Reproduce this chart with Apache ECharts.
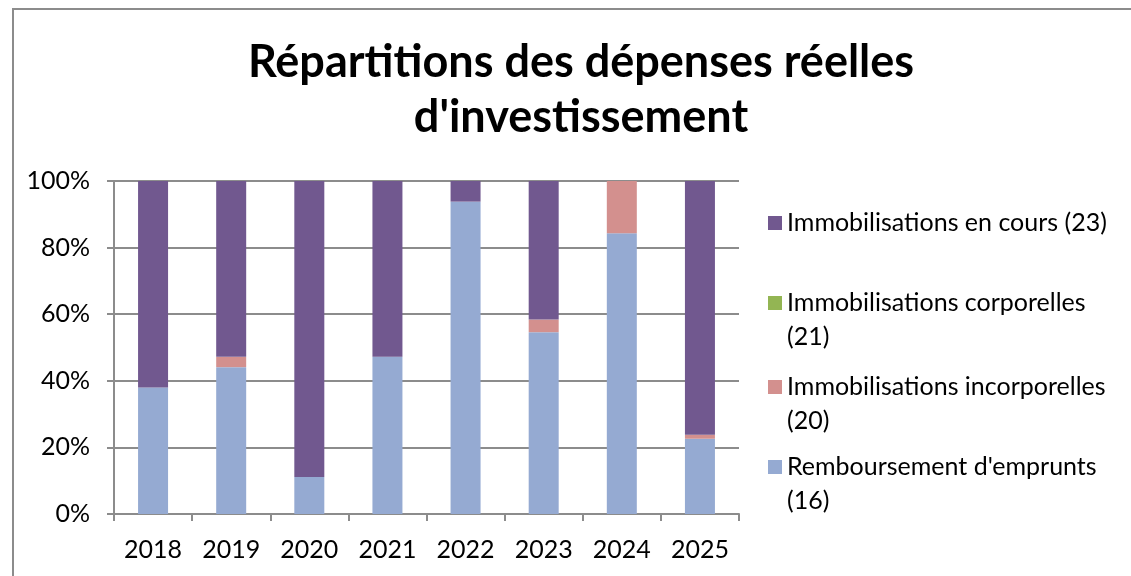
<!DOCTYPE html>
<html>
<head>
<meta charset="utf-8">
<script src="https://cdn.jsdelivr.net/npm/echarts@6/dist/echarts.min.js"></script>
<style>
  html, body { margin: 0; background: #fff; overflow: hidden; width: 1131px; height: 576px; }
  .edge { position: absolute; background: #8c8c8c; }
  #edge-top { left: 12px; top: 8px; width: 1119px; height: 2px; }
  #edge-left { left: 12px; top: 8px; width: 2px; height: 568px; }
  #chart { position: absolute; left: 0; top: 0; width: 1131px; height: 576px; }
</style>
</head>
<body>
<div class="edge" id="edge-top"></div>
<div class="edge" id="edge-left"></div>
<div id="chart"></div>
<script>
var years = ["2018", "2019", "2020", "2021", "2022", "2023", "2024", "2025"];
var remboursement = [38.0, 44.1, 11.1, 47.2, 93.8, 54.6, 84.3, 22.6];
var incorporelles = [0, 3.1, 0, 0, 0, 3.8, 15.7, 1.2];
var corporelles = [0, 0, 0, 0, 0, 0, 0, 0];
var enCours = [62.0, 52.8, 88.9, 52.8, 6.2, 41.6, 0, 76.2];

var names = [
  "Immobilisations en cours (23)",
  "Immobilisations corporelles (21)",
  "Immobilisations incorporelles (20)",
  "Remboursement d'emprunts (16)"
];
var legendLabels = [
  "Immobilisations en cours (23)",
  "Immobilisations corporelles\n(21)",
  "Immobilisations incorporelles\n(20)",
  "Remboursement d'emprunts\n(16)"
];
var colors = ["#71588f", "#93b553", "#d3908e", "#95aad2"];
var legendTops = [223, 303, 387, 467];

var font = "Lato, 'Open Sans', sans-serif";
var lh = 34;
var myChart = echarts.init(document.getElementById("chart"));

// two-line entries: the square sits at the top of a taller icon box
// so it lines up with the first text line
function makeLegend(i) {
  var twoLines = legendLabels[i].indexOf("\n") >= 0;
  var boxH = twoLines ? 14 + lh : 14;
  return {
    data: [{
      name: names[i],
      icon: twoLines ? "path://M0,0L14,0L14,14L0,14Z M0," + boxH + "L0.01," + boxH : "rect"
    }],
    orient: "vertical",
    left: 768,
    top: legendTops[i] - lh / 2,
    padding: 0,
    itemWidth: 14,
    itemHeight: boxH,
    itemGap: 0,
    symbolKeepAspect: false,
    selectedMode: false,
    formatter: function () { return legendLabels[i]; },
    textStyle: {
      fontFamily: font,
      fontSize: 25,
      color: "#000",
      lineHeight: lh
    }
  };
}

var option = {
  animation: false,
  title: {
    text: "Répartitions des dépenses réelles\nd'investissement",
    left: 581,
    textAlign: "center",
    top: 35,
    padding: 0,
    textStyle: {
      fontFamily: font,
      fontWeight: "bold",
      fontSize: 45,
      lineHeight: 55,
      color: "#000"
    }
  },
  legend: [makeLegend(0), makeLegend(1), makeLegend(2), makeLegend(3)],
  grid: { left: 114, right: 392, top: 181, bottom: 62 },
  xAxis: {
    type: "category",
    data: years,
    axisLine: { lineStyle: { color: "#8c8c8c", width: 2 } },
    axisTick: { show: true, length: 7, lineStyle: { color: "#8c8c8c", width: 2 } },
    axisLabel: { fontFamily: font, fontSize: 25, color: "#000", margin: 23 }
  },
  yAxis: {
    type: "value",
    min: 0,
    max: 100,
    interval: 20,
    axisLine: { show: true, lineStyle: { color: "#8c8c8c", width: 2 } },
    axisTick: { show: true, length: 7, lineStyle: { color: "#8c8c8c", width: 2 } },
    splitLine: { lineStyle: { color: "#8c8c8c", width: 2 } },
    axisLabel: { fontFamily: font, fontSize: 25, color: "#000", margin: 24, formatter: "{value}%" }
  },
  series: [
    { name: names[3], type: "bar", stack: "total", barWidth: 30, data: remboursement, itemStyle: { color: colors[3] } },
    { name: names[2], type: "bar", stack: "total", barWidth: 30, data: incorporelles, itemStyle: { color: colors[2] } },
    { name: names[1], type: "bar", stack: "total", barWidth: 30, data: corporelles, itemStyle: { color: colors[1] } },
    { name: names[0], type: "bar", stack: "total", barWidth: 30, data: enCours, itemStyle: { color: colors[0] } }
  ]
};

myChart.setOption(option);
</script>
</body>
</html>
